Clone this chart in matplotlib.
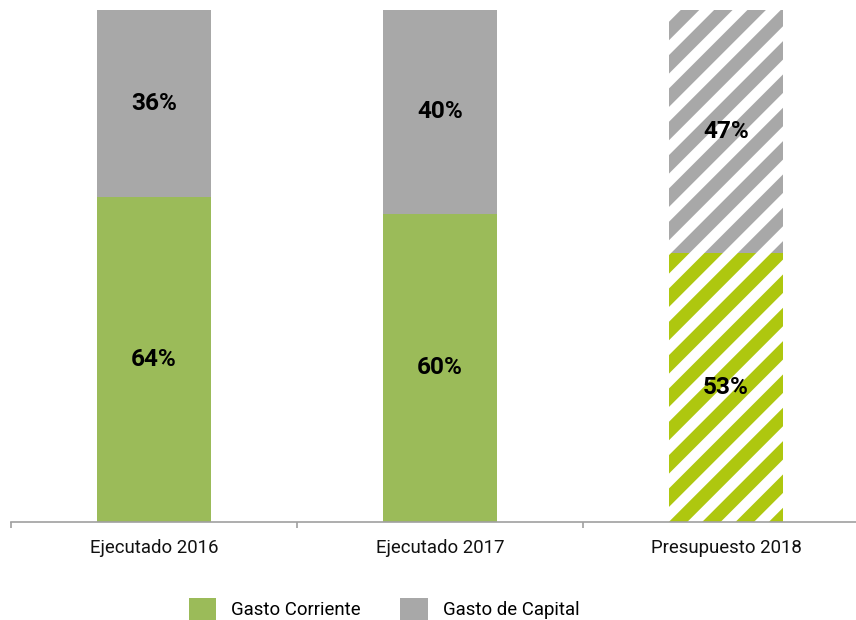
import matplotlib.pyplot as plt
from matplotlib.patches import Patch

categorias = ['Ejecutado 2016', 'Ejecutado 2017', 'Presupuesto 2018']
gasto_corriente = [63.5, 60.2, 52.5]
gasto_capital = [36.5, 39.8, 47.5]
etiq_corriente = ['64%', '60%', '53%']
etiq_capital = ['36%', '40%', '47%']
hatched = [False, False, True]

verde = '#9bbb59'
gris = '#a8a8a8'
verde_rayas = '#aec70f'

plt.rcParams['font.family'] = ['Roboto', 'DejaVu Sans']
plt.rcParams['hatch.linewidth'] = 4.7

# dpi 200 so the hatch spacing matches the reference stripes
fig = plt.figure(figsize=(4.28, 3.1), dpi=200)
ax = fig.add_axes([11 / 856, 1 - 522 / 620, 858 / 856, 512 / 620])

x = range(len(categorias))
for i in x:
    if hatched[i]:
        ax.bar(i, gasto_corriente[i], width=0.4, color='white', edgecolor=verde_rayas,
               hatch='//', linewidth=0)
        ax.bar(i, gasto_capital[i], width=0.4, bottom=gasto_corriente[i], color='white',
               edgecolor=gris, hatch='//', linewidth=0)
    else:
        ax.bar(i, gasto_corriente[i], width=0.4, color=verde, linewidth=0)
        ax.bar(i, gasto_capital[i], width=0.4, bottom=gasto_corriente[i], color=gris, linewidth=0)
    ax.text(i, gasto_corriente[i] / 2, etiq_corriente[i], ha='center', va='center',
            fontsize=8.8, fontweight='bold', color='black')
    ax.text(i, gasto_corriente[i] + gasto_capital[i] / 2, etiq_capital[i], ha='center',
            va='center', fontsize=8.8, fontweight='bold', color='black')

ax.set_xlim(-0.5, 2.5)
ax.set_ylim(0, 100)
for s in ['top', 'right', 'left']:
    ax.spines[s].set_visible(False)
ax.spines['bottom'].set_color('#a0a0a0')
ax.spines['bottom'].set_linewidth(0.6)
ax.set_yticks([])
ax.set_xticks(list(x))
ax.set_xticklabels(categorias, fontsize=6.7, color='#111111')
ax.tick_params(axis='x', which='major', length=0, pad=6)
ax.set_xticks([-0.5, 0.5, 1.5, 2.5], minor=True)
ax.tick_params(axis='x', which='minor', length=2.3, width=0.6, color='#a0a0a0', direction='out')

handles = [Patch(facecolor=verde, label='Gasto Corriente'),
           Patch(facecolor=gris, label='Gasto de Capital')]
fig.legend(handles=handles, loc='center', bbox_to_anchor=(384 / 856, 1 - 609 / 620), ncol=2,
           frameon=False, fontsize=6.7, handlelength=1.5, handleheight=1.5,
           handletextpad=0.8, columnspacing=2.1)

fig.savefig('out.png', dpi=200)
